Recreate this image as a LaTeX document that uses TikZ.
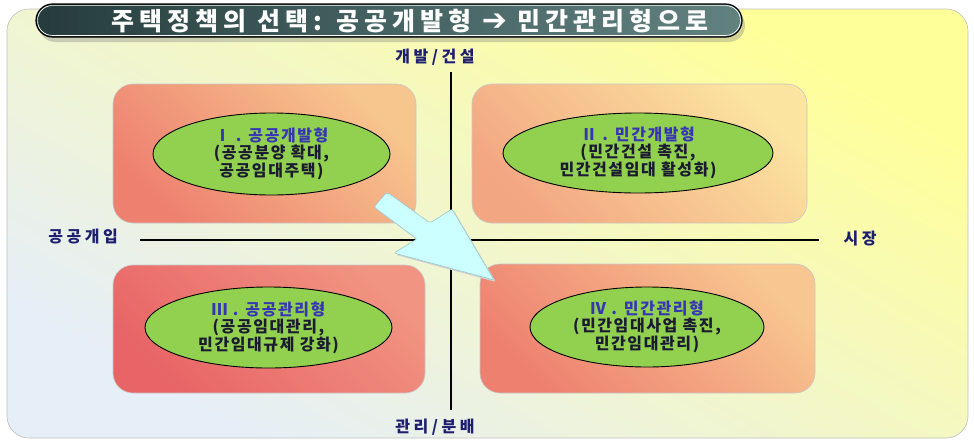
\documentclass[tikz,border=0pt]{standalone}
\usepackage{fontspec}
\setmainfont{Noto Sans CJK KR}
\newfontfamily\krlab{Noto Sans CJK KR}[LetterSpace=22]
\newfontfamily\krtitle{Noto Sans CJK KR}[LetterSpace=20]
\newfontfamily\krell{Noto Sans CJK KR}[LetterSpace=10]
\newfontfamily\dv{DejaVu Sans}
\usetikzlibrary{shapes.geometric,shadows}
\definecolor{bgtop}{HTML}{FFFF99}
\definecolor{bgmid}{HTML}{F6F7D2}
\definecolor{bgbot}{HTML}{E6EEF8}
\definecolor{labnavy}{HTML}{1E1E70}
\definecolor{ttlblue}{HTML}{3535B5}
\definecolor{bodyink}{HTML}{1A1A30}
\definecolor{ellgreen}{HTML}{92D050}
\definecolor{aIlight}{HTML}{F7C68E}
\definecolor{aIdark}{HTML}{EE8070}
\definecolor{aIIlight}{HTML}{FBE4A0}
\definecolor{aIIdark}{HTML}{F3A682}
\definecolor{aIIIlight}{HTML}{F19482}
\definecolor{aIIIdark}{HTML}{E86466}
\definecolor{aIVlight}{HTML}{F8C690}
\definecolor{aIVdark}{HTML}{EE8070}
\definecolor{pilldark}{HTML}{263C3C}
\definecolor{pillmid}{HTML}{456262}
\definecolor{pilllight}{HTML}{628280}
\definecolor{arrowfill}{HTML}{CCFFFF}
\definecolor{arrowedge}{HTML}{9CC8CC}
\tikzset{
  quad/.style={rounded corners=20pt, draw=black!22, line width=0.6pt, inner sep=0pt},
  oval/.style={ellipse, draw=black, line width=0.9pt, fill=ellgreen, inner sep=0pt, align=center,
     font=\krell\bfseries\fontsize{16}{17}\selectfont, text=bodyink},
  axislab/.style={font=\krlab\bfseries\fontsize{16}{18}\selectfont, text=labnavy, inner sep=0pt},
  axisline/.style={line width=2.6pt, black}
}
\newcommand{\ttl}[1]{\textcolor{ttlblue}{#1}}
\begin{document}
\begin{tikzpicture}[x=1pt,y=-1pt]
\useasboundingbox (0,0) rectangle (974,442);
% background panel
\shade[rounded corners=22pt, draw=black!25, line width=0.6pt, top color=bgtop, middle color=bgmid, bottom color=bgbot, shading angle=-30]
  (7,9) rectangle (968,438);
% quadrants
\node[quad, top color=aIlight, bottom color=aIdark, shading angle=-45, minimum width=303pt, minimum height=139pt] (q1) at (264.5,153.5) {};
\node[quad, top color=aIIlight, bottom color=aIIdark, shading angle=-45, minimum width=335pt, minimum height=139pt] (q2) at (639.5,153.5) {};
\node[quad, top color=aIIIlight, bottom color=aIIIdark, shading angle=-45, minimum width=312pt, minimum height=128pt] (q3) at (269,329) {};
\node[quad, top color=aIVlight, bottom color=aIVdark, shading angle=-45, minimum width=335pt, minimum height=129pt] (q4) at (647.5,328.5) {};
% axes
\coordinate (vtop) at (451,72);
\coordinate (vbot) at (451,410);
\coordinate (hleft) at (140,240);
\coordinate (hright) at (819,240);
\draw[axisline] (vtop) -- (vbot);
\draw[axisline] (hleft) -- (hright);
% axis labels
\node[axislab] (lup) at (435,57) {개발/건설};
\node[axislab] (ldown) at (435,427) {관리/분배};
\node[axislab] (lleft) at (83,237) {공공개입};
\node[axislab] (lright) at (860,239) {시장};
% ellipses
\node[oval, minimum width=237pt, minimum height=82pt] (e1) at (271.5,154) {\ttl{Ⅰ . 공공개발형}\\(공공분양 확대,\\공공임대주택)};
\node[oval, minimum width=270pt, minimum height=80pt] (e2) at (638,153) {\ttl{Ⅱ . 민간개발형}\\(민간건설 촉진,\\민간건설임대 활성화)};
\node[oval, minimum width=247pt, minimum height=81pt] (e3) at (268.5,327.5) {\ttl{Ⅲ . 공공관리형}\\(공공임대관리,\\민간임대규제 강화)};
\node[oval, minimum width=234pt, minimum height=80pt] (e4) at (647,327) {\ttl{Ⅳ . 민간관리형}\\(민간임대사업 촉진,\\민간임대관리)};
% transition arrow
\fill[black!18, rounded corners=2pt, shift={(2,2)}]
  (387,192) -- (430,223) -- (452,209) -- (494,280) -- (394,253) -- (417,239) -- (374,207) -- cycle;
\draw[fill=arrowfill, draw=arrowedge, line width=0.6pt, rounded corners=2pt]
  (387,192) -- (430,223) -- (452,209) -- (494,280) -- (394,253) -- (417,239) -- (374,207) -- cycle;
% title banner
\node[draw=black, line width=1.2pt, rounded corners=16.5pt, minimum width=706pt, minimum height=33pt,
      left color=pilldark, right color=pilllight, middle color=pillmid,
      drop shadow={shadow xshift=3pt, shadow yshift=-5pt, opacity=0.35}] (banner) at (389,20.5) {};
\draw[white, line width=0.7pt, rounded corners=14.5pt] ([shift={(2.2pt,-2.2pt)}]banner.north west) rectangle ([shift={(-2.2pt,2.2pt)}]banner.south east);
\node[font=\krtitle\bfseries\fontsize{25}{28}\selectfont, text=white, inner sep=0pt] (ttext) at (410,21)
  {주택정책의 선택: 공공개발형 {\dv\bfseries\fontsize{30}{30}\selectfont ➔} 민간관리형으로};
\end{tikzpicture}
\end{document}
